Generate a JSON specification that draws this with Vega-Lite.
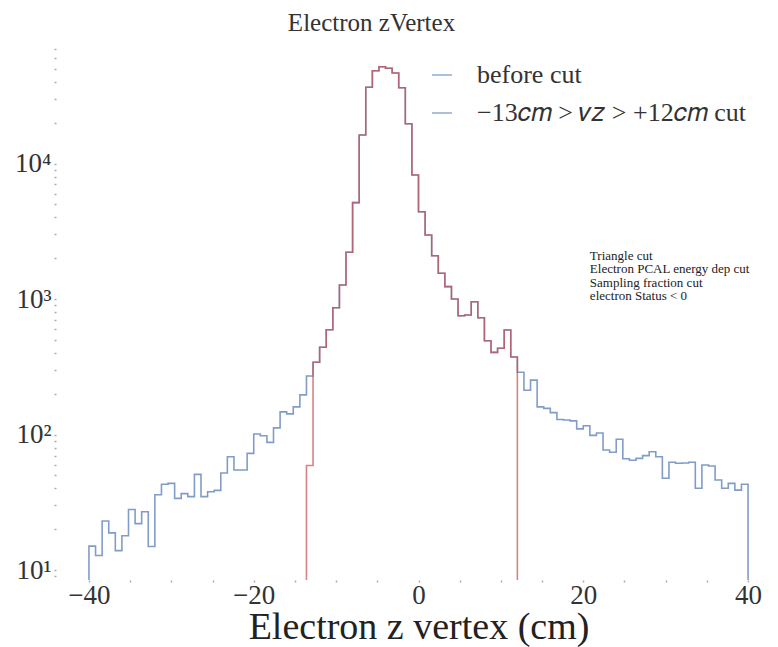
{
  "$schema": "https://vega.github.io/schema/vega-lite/v6.json",
  "width": 725,
  "height": 533,
  "autosize": "none",
  "padding": {"left": 56, "top": 47, "right": 0, "bottom": 67},
  "background": "white",
  "config": {"view": {"stroke": null}, "font": "Liberation Serif"},
  "title": {
    "text": "Electron zVertex",
    "frame": "group",
    "font": "Liberation Serif",
    "fontSize": 25,
    "fontWeight": "normal",
    "color": "#333333",
    "dx": -47,
    "offset": -1
  },
  "datasets": {
    "hist": [
      {"s": "before cut", "k": 0, "z": -40, "n": 1},
      {"s": "before cut", "k": 1, "z": -40, "n": 15},
      {"s": "before cut", "k": 2, "z": -39.2, "n": 12.8},
      {"s": "before cut", "k": 3, "z": -38.4, "n": 23},
      {"s": "before cut", "k": 4, "z": -37.6, "n": 18.8},
      {"s": "before cut", "k": 5, "z": -36.8, "n": 13.9},
      {"s": "before cut", "k": 6, "z": -36, "n": 17.9},
      {"s": "before cut", "k": 7, "z": -35.2, "n": 28},
      {"s": "before cut", "k": 8, "z": -34.4, "n": 22},
      {"s": "before cut", "k": 9, "z": -33.6, "n": 26.9},
      {"s": "before cut", "k": 10, "z": -32.8, "n": 14.9},
      {"s": "before cut", "k": 11, "z": -32, "n": 35.9},
      {"s": "before cut", "k": 12, "z": -31.2, "n": 42.9},
      {"s": "before cut", "k": 13, "z": -30.4, "n": 43.6},
      {"s": "before cut", "k": 14, "z": -29.6, "n": 33.8},
      {"s": "before cut", "k": 15, "z": -28.8, "n": 36.6},
      {"s": "before cut", "k": 16, "z": -28, "n": 34.8},
      {"s": "before cut", "k": 17, "z": -27.2, "n": 50.8},
      {"s": "before cut", "k": 18, "z": -26.4, "n": 34.8},
      {"s": "before cut", "k": 19, "z": -25.6, "n": 37.8},
      {"s": "before cut", "k": 20, "z": -24.8, "n": 38.7},
      {"s": "before cut", "k": 21, "z": -24, "n": 52},
      {"s": "before cut", "k": 22, "z": -23.2, "n": 68.6},
      {"s": "before cut", "k": 23, "z": -22.4, "n": 54.7},
      {"s": "before cut", "k": 24, "z": -21.6, "n": 54.7},
      {"s": "before cut", "k": 25, "z": -20.8, "n": 72.6},
      {"s": "before cut", "k": 26, "z": -20, "n": 101},
      {"s": "before cut", "k": 27, "z": -19.2, "n": 98},
      {"s": "before cut", "k": 28, "z": -18.4, "n": 87.5},
      {"s": "before cut", "k": 29, "z": -17.6, "n": 112},
      {"s": "before cut", "k": 30, "z": -16.8, "n": 147},
      {"s": "before cut", "k": 31, "z": -16, "n": 142},
      {"s": "before cut", "k": 32, "z": -15.2, "n": 160},
      {"s": "before cut", "k": 33, "z": -14.4, "n": 196},
      {"s": "before cut", "k": 34, "z": -13.6, "n": 270},
      {"s": "before cut", "k": 35, "z": -12.8, "n": 341},
      {"s": "before cut", "k": 36, "z": -12, "n": 440},
      {"s": "before cut", "k": 37, "z": -11.2, "n": 593},
      {"s": "before cut", "k": 38, "z": -10.4, "n": 863},
      {"s": "before cut", "k": 39, "z": -9.6, "n": 1268},
      {"s": "before cut", "k": 40, "z": -8.8, "n": 2213},
      {"s": "before cut", "k": 41, "z": -8, "n": 5140},
      {"s": "before cut", "k": 42, "z": -7.2, "n": 16230},
      {"s": "before cut", "k": 43, "z": -6.4, "n": 36500},
      {"s": "before cut", "k": 44, "z": -5.6, "n": 48400},
      {"s": "before cut", "k": 45, "z": -4.8, "n": 51800},
      {"s": "before cut", "k": 46, "z": -4, "n": 50400},
      {"s": "before cut", "k": 47, "z": -3.2, "n": 46600},
      {"s": "before cut", "k": 48, "z": -2.4, "n": 36250},
      {"s": "before cut", "k": 49, "z": -1.6, "n": 19670},
      {"s": "before cut", "k": 50, "z": -0.8, "n": 8225},
      {"s": "before cut", "k": 51, "z": 0, "n": 4406},
      {"s": "before cut", "k": 52, "z": 0.8, "n": 2965},
      {"s": "before cut", "k": 53, "z": 1.6, "n": 2088},
      {"s": "before cut", "k": 54, "z": 2.4, "n": 1549},
      {"s": "before cut", "k": 55, "z": 3.2, "n": 1234},
      {"s": "before cut", "k": 56, "z": 4, "n": 1000},
      {"s": "before cut", "k": 57, "z": 4.8, "n": 753},
      {"s": "before cut", "k": 58, "z": 5.6, "n": 762},
      {"s": "before cut", "k": 59, "z": 6.4, "n": 955},
      {"s": "before cut", "k": 60, "z": 7.2, "n": 728},
      {"s": "before cut", "k": 61, "z": 8, "n": 492},
      {"s": "before cut", "k": 62, "z": 8.8, "n": 404},
      {"s": "before cut", "k": 63, "z": 9.6, "n": 433},
      {"s": "before cut", "k": 64, "z": 10.4, "n": 590},
      {"s": "before cut", "k": 65, "z": 11.2, "n": 373},
      {"s": "before cut", "k": 66, "z": 12, "n": 288},
      {"s": "before cut", "k": 67, "z": 12.8, "n": 212},
      {"s": "before cut", "k": 68, "z": 13.6, "n": 252},
      {"s": "before cut", "k": 69, "z": 14.4, "n": 160},
      {"s": "before cut", "k": 70, "z": 15.2, "n": 156},
      {"s": "before cut", "k": 71, "z": 16, "n": 145},
      {"s": "before cut", "k": 72, "z": 16.8, "n": 129},
      {"s": "before cut", "k": 73, "z": 17.6, "n": 128},
      {"s": "before cut", "k": 74, "z": 18.4, "n": 126},
      {"s": "before cut", "k": 75, "z": 19.2, "n": 110},
      {"s": "before cut", "k": 76, "z": 20, "n": 116},
      {"s": "before cut", "k": 77, "z": 20.8, "n": 98.6},
      {"s": "before cut", "k": 78, "z": 21.6, "n": 102.6},
      {"s": "before cut", "k": 79, "z": 22.4, "n": 76.9},
      {"s": "before cut", "k": 80, "z": 23.2, "n": 73.9},
      {"s": "before cut", "k": 81, "z": 24, "n": 92.2},
      {"s": "before cut", "k": 82, "z": 24.8, "n": 66.3},
      {"s": "before cut", "k": 83, "z": 25.6, "n": 64.5},
      {"s": "before cut", "k": 84, "z": 26.4, "n": 66.7},
      {"s": "before cut", "k": 85, "z": 27.2, "n": 69.8},
      {"s": "before cut", "k": 86, "z": 28, "n": 74.7},
      {"s": "before cut", "k": 87, "z": 28.8, "n": 68.6},
      {"s": "before cut", "k": 88, "z": 29.6, "n": 47.5},
      {"s": "before cut", "k": 89, "z": 30.4, "n": 62.4},
      {"s": "before cut", "k": 90, "z": 31.2, "n": 61.3},
      {"s": "before cut", "k": 91, "z": 32, "n": 61.6},
      {"s": "before cut", "k": 92, "z": 32.8, "n": 62.4},
      {"s": "before cut", "k": 93, "z": 33.6, "n": 40.1},
      {"s": "before cut", "k": 94, "z": 34.4, "n": 59.6},
      {"s": "before cut", "k": 95, "z": 35.2, "n": 58.6},
      {"s": "before cut", "k": 96, "z": 36, "n": 46.2},
      {"s": "before cut", "k": 97, "z": 36.8, "n": 40.1},
      {"s": "before cut", "k": 98, "z": 37.6, "n": 43.6},
      {"s": "before cut", "k": 99, "z": 38.4, "n": 38.9},
      {"s": "before cut", "k": 100, "z": 39.2, "n": 42.9},
      {"s": "before cut", "k": 101, "z": 40, "n": 42.9},
      {"s": "before cut", "k": 102, "z": 40, "n": 1},
      {"s": "−13𝑐𝑚 > 𝑣𝑧 > +12𝑐𝑚 cut", "k": 0, "z": -13.6, "n": 1},
      {"s": "−13𝑐𝑚 > 𝑣𝑧 > +12𝑐𝑚 cut", "k": 1, "z": -13.6, "n": 59},
      {"s": "−13𝑐𝑚 > 𝑣𝑧 > +12𝑐𝑚 cut", "k": 2, "z": -12.8, "n": 341},
      {"s": "−13𝑐𝑚 > 𝑣𝑧 > +12𝑐𝑚 cut", "k": 3, "z": -12, "n": 440},
      {"s": "−13𝑐𝑚 > 𝑣𝑧 > +12𝑐𝑚 cut", "k": 4, "z": -11.2, "n": 593},
      {"s": "−13𝑐𝑚 > 𝑣𝑧 > +12𝑐𝑚 cut", "k": 5, "z": -10.4, "n": 863},
      {"s": "−13𝑐𝑚 > 𝑣𝑧 > +12𝑐𝑚 cut", "k": 6, "z": -9.6, "n": 1268},
      {"s": "−13𝑐𝑚 > 𝑣𝑧 > +12𝑐𝑚 cut", "k": 7, "z": -8.8, "n": 2213},
      {"s": "−13𝑐𝑚 > 𝑣𝑧 > +12𝑐𝑚 cut", "k": 8, "z": -8, "n": 5140},
      {"s": "−13𝑐𝑚 > 𝑣𝑧 > +12𝑐𝑚 cut", "k": 9, "z": -7.2, "n": 16230},
      {"s": "−13𝑐𝑚 > 𝑣𝑧 > +12𝑐𝑚 cut", "k": 10, "z": -6.4, "n": 36500},
      {"s": "−13𝑐𝑚 > 𝑣𝑧 > +12𝑐𝑚 cut", "k": 11, "z": -5.6, "n": 48400},
      {"s": "−13𝑐𝑚 > 𝑣𝑧 > +12𝑐𝑚 cut", "k": 12, "z": -4.8, "n": 51800},
      {"s": "−13𝑐𝑚 > 𝑣𝑧 > +12𝑐𝑚 cut", "k": 13, "z": -4, "n": 50400},
      {"s": "−13𝑐𝑚 > 𝑣𝑧 > +12𝑐𝑚 cut", "k": 14, "z": -3.2, "n": 46600},
      {"s": "−13𝑐𝑚 > 𝑣𝑧 > +12𝑐𝑚 cut", "k": 15, "z": -2.4, "n": 36250},
      {"s": "−13𝑐𝑚 > 𝑣𝑧 > +12𝑐𝑚 cut", "k": 16, "z": -1.6, "n": 19670},
      {"s": "−13𝑐𝑚 > 𝑣𝑧 > +12𝑐𝑚 cut", "k": 17, "z": -0.8, "n": 8225},
      {"s": "−13𝑐𝑚 > 𝑣𝑧 > +12𝑐𝑚 cut", "k": 18, "z": 0, "n": 4406},
      {"s": "−13𝑐𝑚 > 𝑣𝑧 > +12𝑐𝑚 cut", "k": 19, "z": 0.8, "n": 2965},
      {"s": "−13𝑐𝑚 > 𝑣𝑧 > +12𝑐𝑚 cut", "k": 20, "z": 1.6, "n": 2088},
      {"s": "−13𝑐𝑚 > 𝑣𝑧 > +12𝑐𝑚 cut", "k": 21, "z": 2.4, "n": 1549},
      {"s": "−13𝑐𝑚 > 𝑣𝑧 > +12𝑐𝑚 cut", "k": 22, "z": 3.2, "n": 1234},
      {"s": "−13𝑐𝑚 > 𝑣𝑧 > +12𝑐𝑚 cut", "k": 23, "z": 4, "n": 1000},
      {"s": "−13𝑐𝑚 > 𝑣𝑧 > +12𝑐𝑚 cut", "k": 24, "z": 4.8, "n": 753},
      {"s": "−13𝑐𝑚 > 𝑣𝑧 > +12𝑐𝑚 cut", "k": 25, "z": 5.6, "n": 762},
      {"s": "−13𝑐𝑚 > 𝑣𝑧 > +12𝑐𝑚 cut", "k": 26, "z": 6.4, "n": 955},
      {"s": "−13𝑐𝑚 > 𝑣𝑧 > +12𝑐𝑚 cut", "k": 27, "z": 7.2, "n": 728},
      {"s": "−13𝑐𝑚 > 𝑣𝑧 > +12𝑐𝑚 cut", "k": 28, "z": 8, "n": 492},
      {"s": "−13𝑐𝑚 > 𝑣𝑧 > +12𝑐𝑚 cut", "k": 29, "z": 8.8, "n": 404},
      {"s": "−13𝑐𝑚 > 𝑣𝑧 > +12𝑐𝑚 cut", "k": 30, "z": 9.6, "n": 433},
      {"s": "−13𝑐𝑚 > 𝑣𝑧 > +12𝑐𝑚 cut", "k": 31, "z": 10.4, "n": 590},
      {"s": "−13𝑐𝑚 > 𝑣𝑧 > +12𝑐𝑚 cut", "k": 32, "z": 11.2, "n": 373},
      {"s": "−13𝑐𝑚 > 𝑣𝑧 > +12𝑐𝑚 cut", "k": 33, "z": 12, "n": 373},
      {"s": "−13𝑐𝑚 > 𝑣𝑧 > +12𝑐𝑚 cut", "k": 34, "z": 12, "n": 1}
    ]
  },
  "resolve": {"scale": {"color": "independent"}, "legend": {"color": "independent"}},
  "layer": [
    {
      "data": {"name": "hist"},
      "mark": {"type": "line", "interpolate": "step-after", "strokeWidth": 1.6, "opacity": 0.7, "clip": true},
      "encoding": {
        "x": {
          "field": "z",
          "type": "quantitative",
          "scale": {"domain": [-44, 44], "nice": false, "zero": false},
          "axis": {
            "title": "Electron z vertex (cm)",
            "values": [-40, -35, -30, -25, -20, -15, -10, -5, 0, 5, 10, 15, 20, 25, 30, 35, 40],
            "labelExpr": "datum.value % 20 == 0 ? datum.label : ''",
            "domain": false,
            "grid": false,
            "tickSize": 2,
            "tickWidth": 1.5,
            "tickColor": "#aaaaaa",
            "labelFont": "Liberation Serif",
            "labelFontSize": 27,
            "labelColor": "#333333",
            "labelPadding": 0,
            "labelFlush": false,
            "labelOverlap": false,
            "titleFont": "Liberation Serif",
            "titleFontSize": 38,
            "titleFontWeight": "normal",
            "titleColor": "#222222",
            "titlePadding": 0
          }
        },
        "y": {
          "field": "n",
          "type": "quantitative",
          "scale": {"type": "log", "domain": [8.44, 72400], "nice": false},
          "axis": {
            "title": null,
            "values": [9, 10, 20, 30, 40, 50, 60, 70, 80, 90, 100, 200, 300, 400, 500, 600, 700, 800, 900, 1000, 2000, 3000, 4000, 5000, 6000, 7000, 8000, 9000, 10000, 20000, 30000, 40000, 50000, 60000, 70000],
            "labelExpr": "datum.value == 10 ? '10¹' : datum.value == 100 ? '10²' : datum.value == 1000 ? '10³' : datum.value == 10000 ? '10⁴' : ''",
            "domain": false,
            "grid": false,
            "tickSize": 2,
            "tickWidth": 1.5,
            "tickColor": "#aaaaaa",
            "labelFont": "Liberation Serif",
            "labelFontSize": 27,
            "labelColor": "#333333",
            "labelPadding": 3,
            "labelOverlap": false
          }
        },
        "color": {
          "field": "s",
          "type": "nominal",
          "sort": null,
          "scale": {"domain": ["before cut", "−13𝑐𝑚 > 𝑣𝑧 > +12𝑐𝑚 cut"], "range": ["#4c72b0", "#c44e52"]},
          "legend": null
        },
        "order": {"field": "k", "type": "quantitative"}
      }
    },
    {
      "data": {"values": [{"s": "before cut"}, {"s": "−13𝑐𝑚 > 𝑣𝑧 > +12𝑐𝑚 cut"}]},
      "mark": {"type": "point", "opacity": 0},
      "encoding": {
        "color": {
          "field": "s",
          "type": "nominal",
          "sort": null,
          "scale": {"domain": ["before cut", "−13𝑐𝑚 > 𝑣𝑧 > +12𝑐𝑚 cut"], "range": ["#4c72b0", "#4c72b0"]},
          "legend": {
            "title": null,
            "orient": "none",
            "legendX": 373,
            "legendY": 15,
            "padding": 0,
            "symbolType": "stroke",
            "symbolSize": 400,
            "symbolStrokeWidth": 1.5,
            "symbolOpacity": 0.6,
            "labelFont": "Liberation Serif",
            "labelFontSize": 26,
            "labelColor": "#333333",
            "labelLimit": 400,
            "labelOffset": 22,
            "rowPadding": 12
          }
        }
      }
    },
    {
      "data": {"values": [{"note": "cuts"}]},
      "mark": {
        "type": "text",
        "text": ["Triangle cut", "Electron PCAL energy dep cut", "Sampling fraction cut", "electron Status < 0"],
        "align": "left",
        "baseline": "top",
        "font": "Liberation Serif",
        "fontSize": 13,
        "lineHeight": 13.5,
        "color": "#222222"
      },
      "encoding": {
        "x": {"datum": 20.8},
        "y": {"datum": 2300}
      }
    }
  ]
}
